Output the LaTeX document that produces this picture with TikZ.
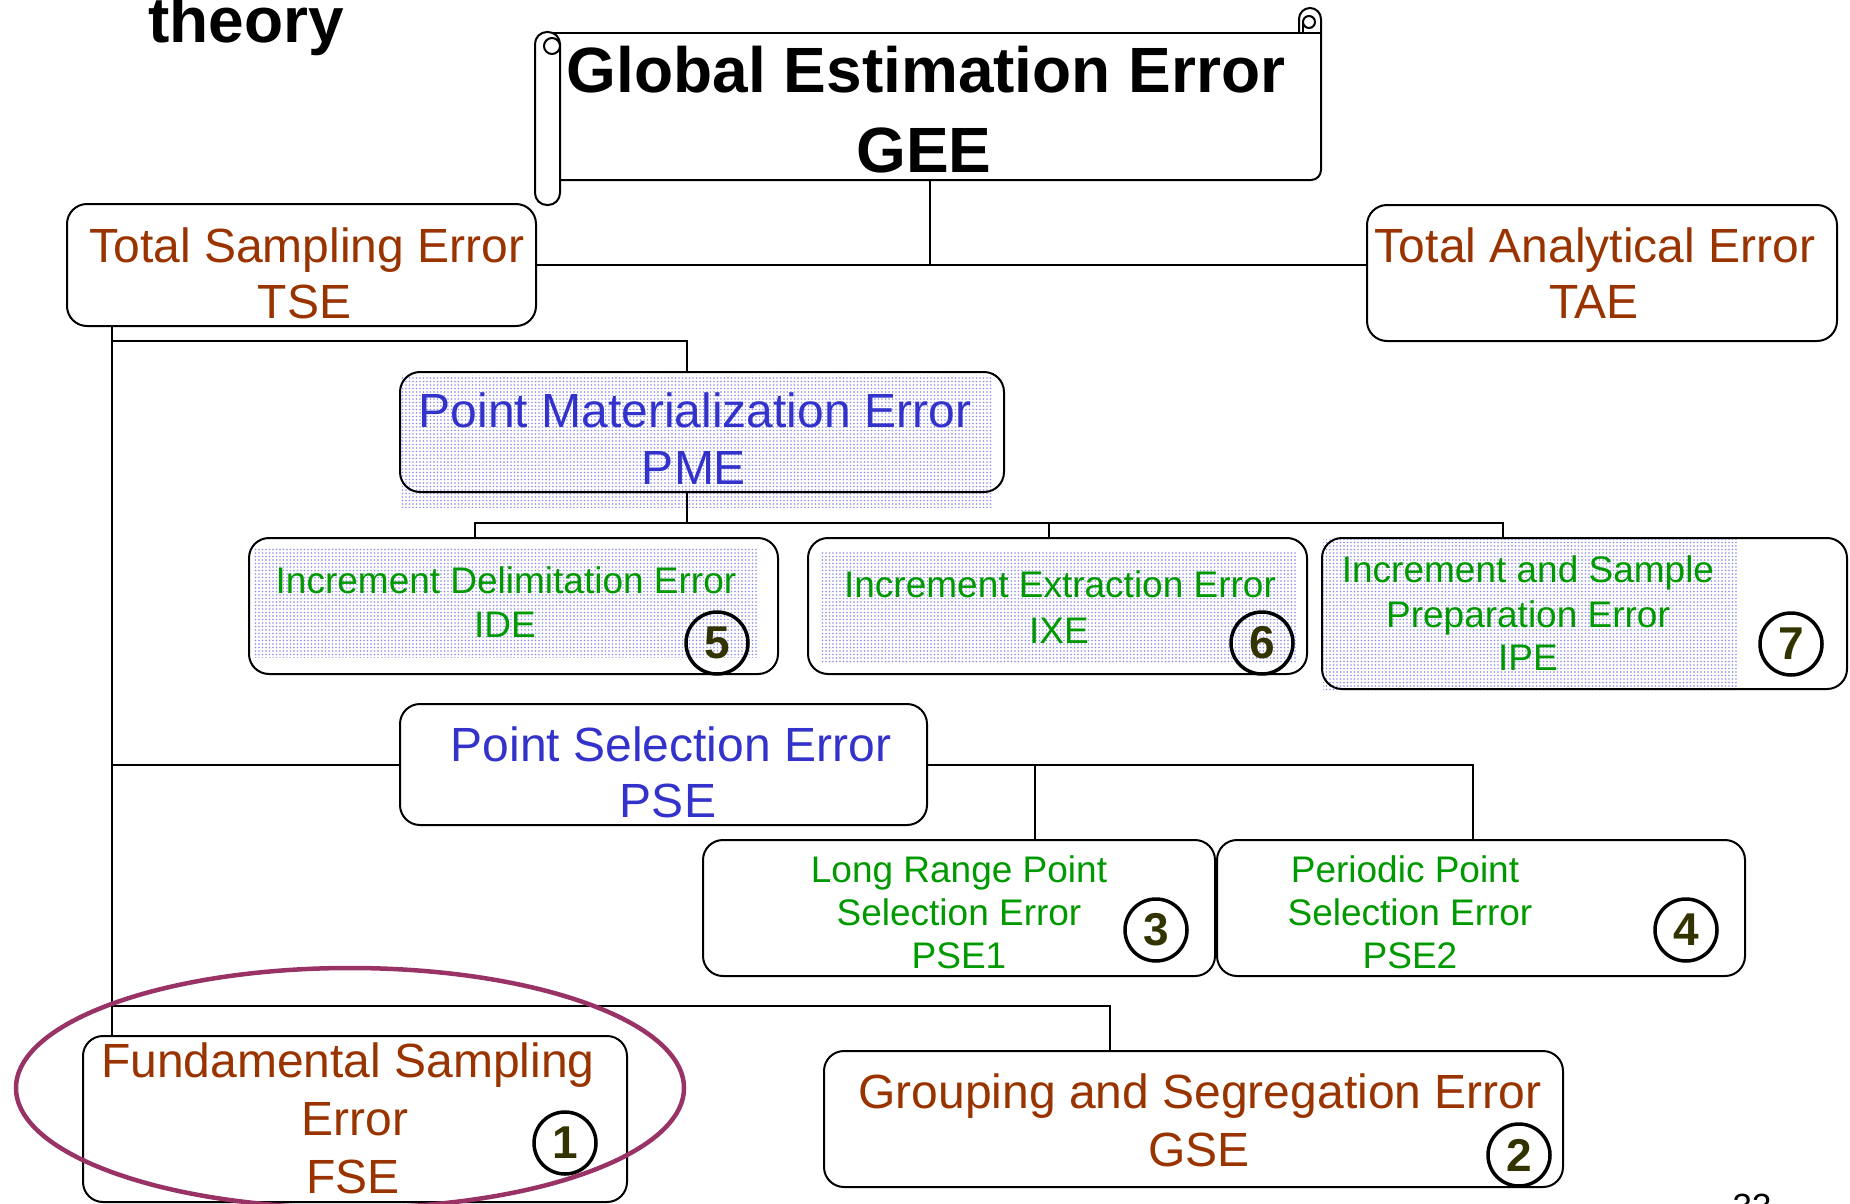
\documentclass[tikz,border=0pt]{standalone}
\usepackage{fontspec}
\setmainfont{Liberation Sans}
\usetikzlibrary{patterns.meta}
\definecolor{tbrown}{RGB}{153,51,0}
\definecolor{tblue}{RGB}{51,51,204}
\definecolor{tgreen}{RGB}{0,153,0}
\definecolor{tnum}{RGB}{51,51,0}
\definecolor{ellc}{RGB}{153,51,102}
\definecolor{patc}{RGB}{140,140,235}
\begin{document}
\begin{tikzpicture}[x=1pt,y=-1pt,
  box/.style={draw=black, line width=2pt, rounded corners=20pt, inner sep=0pt, outer sep=0pt},
  lbl/.style={anchor=base, inner sep=0pt, outer sep=0pt},
  bigt/.style={lbl, font=\fontsize{48}{56}\selectfont},
  smallt/.style={lbl, font=\fontsize{37}{44}\selectfont},
  titlet/.style={lbl, font=\bfseries\fontsize{64}{72}\selectfont},
  numc/.style={circle, draw=black, line width=3.5pt, minimum size=62pt, inner sep=0pt,
               text=tnum, font=\bfseries\fontsize{46}{50}\selectfont},
  conn/.style={draw=black, line width=2pt},
  pat/.style={pattern={Dots[radius=0.8pt, distance=3.5pt]}, pattern color=patc},
  scroll/.style={draw=black, line width=2pt, line join=round}]
\useasboundingbox (0,0) rectangle (1850,1204);

% dotted pattern fills
\fill[pat] (401,375) rectangle (992,507);
\fill[pat] (253,548) rectangle (758,657);
\fill[pat] (821,552) rectangle (1297,662);
\fill[pat] (1323,539) rectangle (1737,690);

% title fragment
\node[titlet, anchor=base west] (ttl) at (148,43) {theory};

% scroll GEE
\draw[scroll] (548,33) -- (1321,33);
\draw[scroll] (560,180) -- (1311,180) arc[start angle=90, end angle=0, radius=10]
  -- (1321,19) arc[start angle=0, end angle=-180, radius=11] -- (1299,33);
\draw[scroll] (1309,22) circle (6);
\draw[scroll] (1303,22) -- (1303,33);
\draw[scroll, fill=white, rounded corners=12pt] (535,32) rectangle (560,205);
\draw[scroll] (552,46) circle (8);
\coordinate (geeb) at (930,180);
\node[titlet] (gee1) at (926,93) {Global Estimation Error};
\node[titlet] (gee2) at (924,172) {GEE};

% boxes
\node[box, minimum width=469pt, minimum height=122pt] (tse) at (301.5,265) {};
\node[box, minimum width=470pt, minimum height=136pt] (tae) at (1602,273) {};
\node[box, minimum width=604pt, minimum height=120pt] (pme) at (702,432) {};
\node[box, minimum width=529pt, minimum height=136pt] (ide) at (513.5,606) {};
\node[box, minimum width=499pt, minimum height=136pt] (ixe) at (1057.5,606) {};
\node[box, minimum width=525pt, minimum height=151pt] (ipe) at (1584.5,613.5) {};
\node[box, minimum width=527pt, minimum height=121pt] (pse) at (663.5,764.5) {};
\node[box, minimum width=512pt, minimum height=136pt] (pseA) at (959,908) {};
\node[box, minimum width=528pt, minimum height=136pt] (pseB) at (1481,908) {};
\node[box, minimum width=544pt, minimum height=166pt] (fse) at (355,1119) {};
\node[box, minimum width=739pt, minimum height=136pt] (gse) at (1193.5,1119) {};

% connectors
\draw[conn] (geeb) -- (geeb |- tse.east);
\draw[conn] (tse.east) -- (tse.east -| tae.west);
\coordinate (trk) at ([xshift=45pt]tse.south west);
\draw[conn] (trk) -- (trk |- fse.north);
\coordinate (j1) at (112,341);
\draw[conn] (j1) -| ([xshift=-15pt]pme.north);
\draw[conn] (pse.west) -- (pse.west -| trk);
\coordinate (j3) at (112,1006);
\draw[conn] (j3) -| ([xshift=-83.5pt]gse.north);
\draw[conn] ([xshift=-15pt]pme.south) -- ++(0,31);
\draw[conn] ([xshift=-38.5pt]ide.north) -- ++(0,-15) -| ([xshift=-81.5pt]ipe.north);
\draw[conn] ([xshift=-8.5pt]ixe.north) -- ++(0,-15);
\draw[conn] (pse.east) -| ([xshift=-8pt]pseB.north);
\draw[conn] ([xshift=76pt]pseA.north) -- ++(0,-75.5);

% texts
\node[bigt, text=tbrown] (tse1) at (307,262) {Total Sampling Error};
\node[bigt, text=tbrown] (tse2) at (304.5,318) {TSE};
\node[bigt, text=tbrown] (tae1) at (1595,262) {Total Analytical Error};
\node[bigt, text=tbrown] (tae2) at (1594,318) {TAE};
\node[bigt, text=tblue] (pme1) at (695,427) {Point Materialization Error};
\node[bigt, text=tblue] (pme2) at (694,484) {PME};
\node[smallt, text=tgreen] (ide1) at (506,593) {Increment Delimitation Error};
\node[smallt, text=tgreen] (ide2) at (505,637) {IDE};
\node[smallt, text=tgreen] (ixe1) at (1060,597) {Increment Extraction Error};
\node[smallt, text=tgreen] (ixe2) at (1059,643) {IXE};
\node[smallt, text=tgreen] (ipe1) at (1528,582) {Increment and Sample};
\node[smallt, text=tgreen] (ipe2) at (1528,627) {Preparation Error};
\node[smallt, text=tgreen] (ipe3) at (1528,670) {IPE};
\node[bigt, text=tblue] (pse1t) at (671,761) {Point Selection Error};
\node[bigt, text=tblue] (pse2t) at (668,817) {PSE};
\node[smallt, text=tgreen] (pa1) at (959,882) {Long Range Point};
\node[smallt, text=tgreen] (pa2) at (959,925) {Selection Error};
\node[smallt, text=tgreen] (pa3) at (959,968) {PSE1};
\node[smallt, text=tgreen] (pb1) at (1405,882) {Periodic Point};
\node[smallt, text=tgreen] (pb2) at (1410,925) {Selection Error};
\node[smallt, text=tgreen] (pb3) at (1410,968) {PSE2};
\node[bigt, text=tbrown] (fse1) at (348,1077) {Fundamental Sampling};
\node[bigt, text=tbrown] (fse2) at (355,1135) {Error};
\node[bigt, text=tbrown] (fse3) at (353,1193) {FSE};
\node[bigt, text=tbrown] (gse1) at (1200,1108) {Grouping and Segregation Error};
\node[bigt, text=tbrown] (gse2) at (1199,1166) {GSE};
\node[lbl, font=\fontsize{35}{40}\selectfont] (pg) at (1752,1218) {33};

% numbered circles
\node[numc] (c1) at (565,1143) {1};
\node[numc] (c2) at (1519,1155) {2};
\node[numc] (c3) at (1156,930) {3};
\node[numc] (c4) at (1686,930) {4};
\node[numc] (c5) at (717,643) {5};
\node[numc] (c6) at (1262,643) {6};
\node[numc] (c7) at (1791,644) {7};

% highlight ellipse
\draw[ellc, line width=4.5pt] (350,1088) ellipse [x radius=334, y radius=120];
\end{tikzpicture}
\end{document}
